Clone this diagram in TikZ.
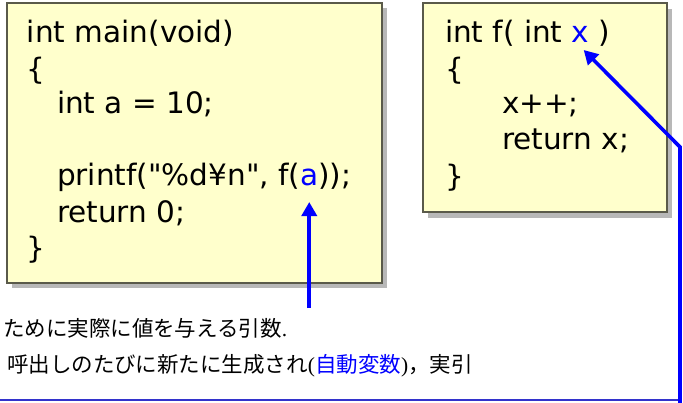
\documentclass[tikz,border=0pt]{standalone}
\usepackage{fontspec}
\setmainfont{DejaVu Sans}
\newfontfamily\codefont{DejaVu Sans}
\newfontfamily\jpfont{Noto Sans CJK JP}
\newfontfamily\punctfont{Liberation Serif}
\usetikzlibrary{arrows.meta}
\definecolor{boxfill}{HTML}{FFFFCC}
\definecolor{boxedge}{HTML}{5A5A4A}
\definecolor{shadowgray}{HTML}{B8B8B8}
\definecolor{arrblue}{HTML}{0000FF}
\definecolor{framblue}{HTML}{3333CC}
\begin{document}
\begin{tikzpicture}[x=1pt,y=-1pt,
  box/.style={draw=boxedge, fill=boxfill, line width=1.6pt, anchor=north west, inner sep=0, outer sep=0},
  shadowbox/.style={fill=shadowgray, anchor=north west, inner sep=0, outer sep=0},
  code/.style={font=\codefont\fontsize{29.5}{36}\selectfont, inner sep=0, outer sep=0, anchor=base west},
  jp/.style={font=\jpfont\fontsize{21.5}{26}\selectfont, inner sep=0, outer sep=0, anchor=base west},
  arr/.style={draw=arrblue, line width=3.6pt, -{Triangle[length=14pt,width=15pt]}}]
\useasboundingbox (0,0) rectangle (683,402);

% shadows and boxes
\node[shadowbox, minimum width=375pt, minimum height=280pt] (mainshadow) at (12,8) {};
\node[box, minimum width=375pt, minimum height=280pt] (mainbox) at (7,3) {};
\node[shadowbox, minimum width=244pt, minimum height=209pt] (fshadow) at (428,9) {};
\node[box, minimum width=244pt, minimum height=209pt] (fbox) at (423,3) {};

% main code
\node[code] (m1) at (27,42) {int main(void)};
\node[code] (m2) at (27,79) {\{};
\node[code] (m3) at (57,113) {int a = 10;};
\node[code] (m4) at (57,185) {printf("\%d¥n", f(};
\node[code, text=arrblue] (a) at (m4.base east) {a};
\node[code] (m4b) at (a.base east) {));};
\node[code] (m5) at (57,222) {return 0;};
\node[code] (m6) at (27,258) {\}};

% f code
\node[code] (f1) at (445,42) {int f( int};
\node[code, text=arrblue] (x) at ([xshift=9.4pt]f1.base east) {x};
\node[code] (f1b) at (x.base east) {\ )};
\node[code] (f2) at (445,79) {\{};
\node[code] (f3) at (502,113) {x++;};
\node[code] (f4) at (502,149) {return x;};
\node[code] (f5) at (445,186) {\}};

% japanese text
\node[jp] (j1) at (3,336) {ために実際に値を与える引数{\punctfont .}};
\node[jp] (j2) at (7,372) {呼出しのたびに新たに生成され{\punctfont (}\textcolor{arrblue}{自動変数}{\punctfont )}，実引};

% frame line
\coordinate (fl) at (0,400);
\coordinate (fr) at (680,400);
\draw[framblue, line width=1.5pt] (fl) -- (fr);

% arrows
\path (a.base) ++(0,123) coordinate (astart);
\draw[arr] (astart) -- ([yshift=-17pt]a.base);
\coordinate (xstart) at (680,405);
\coordinate (xbend) at (680,147);
\draw[arr] (xstart) -- (xbend) -- ([xshift=3pt,yshift=-8pt]x.base);
\end{tikzpicture}
\end{document}
